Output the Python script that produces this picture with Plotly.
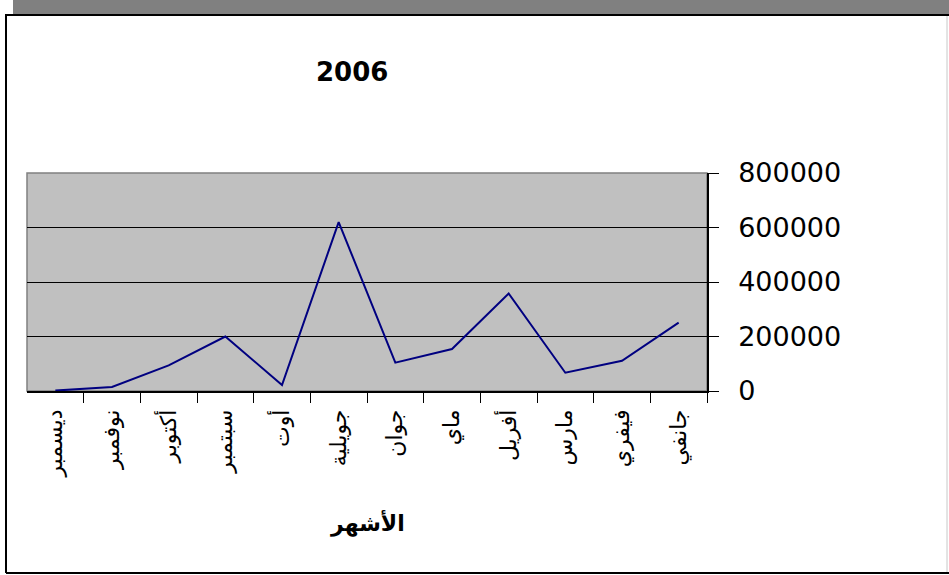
import plotly.graph_objects as go

months = ["جانفي", "فيفري", "مارس", "أفريل", "ماي", "جوان",
          "جويلية", "أوت", "سبتمبر", "أكتوبر", "نوفمبر", "ديسمبر"]
values = [251000, 111000, 67000, 358000, 154000, 104000,
          620000, 22000, 200000, 94000, 15000, 1500]
y_ticks = [0, 200000, 400000, 600000, 800000]
y_tick_labels = ["0", "200000", "400000", "600000", "800000"]
chart_title = "2006"
x_title = "الأشهر"

W, H = 949, 575
L, R, T, B = 27, 707, 173, 391


def px(x):
    return (x - L) / (R - L)


def py(y):
    return (B - y) / (B - T)


fig = go.Figure()
fig.add_trace(go.Scatter(
    x=months, y=values, mode="lines",
    line=dict(color="#000080", width=2),
    hoverinfo="x+y", showlegend=False,
))

shapes = [
    # top grey band
    dict(type="rect", xref="paper", yref="paper", x0=px(13), x1=px(952),
         y0=py(14), y1=py(-3), fillcolor="#808080", line=dict(width=0), layer="below"),
    # outer chart border
    dict(type="line", xref="paper", yref="paper", x0=px(5), x1=px(952),
         y0=py(15), y1=py(15), line=dict(color="black", width=2)),
    dict(type="line", xref="paper", yref="paper", x0=px(6), x1=px(6),
         y0=py(15), y1=py(573), line=dict(color="black", width=2)),
    dict(type="line", xref="paper", yref="paper", x0=px(6), x1=px(952),
         y0=py(573), y1=py(573), line=dict(color="black", width=2)),
    dict(type="line", xref="paper", yref="paper", x0=px(947), x1=px(947),
         y0=py(16), y1=py(572), line=dict(color="#c8c8c8", width=1)),
    # plot area frame (grey)
    dict(type="rect", xref="paper", yref="paper", x0=0, x1=1, y0=0, y1=1,
         line=dict(color="#808080", width=1.5), layer="below"),
]

annotations = [
    dict(text=chart_title, xref="paper", yref="paper", x=px(352), y=py(72),
         showarrow=False, xanchor="center", yanchor="middle",
         font=dict(family="DejaVu Sans", size=26, color="black", weight="bold")),
    dict(text=x_title, xref="paper", yref="paper", x=px(367), y=py(523),
         showarrow=False, xanchor="center", yanchor="middle",
         font=dict(family="DejaVu Sans", size=22, color="black", weight="bold")),
]

fig.update_layout(
    width=W, height=H,
    margin=dict(l=L, r=W - R, t=T, b=H - B, pad=0),
    paper_bgcolor="white",
    plot_bgcolor="#c0c0c0",
    shapes=shapes,
    annotations=annotations,
    showlegend=False,
    xaxis=dict(
        type="category",
        range=[len(months) - 0.5, -0.5],
        tickson="boundaries",
        ticks="outside", ticklen=10, tickcolor="black", tickwidth=1,
        ticklabelstandoff=8,
        showgrid=False,
        showline=True, linecolor="black", linewidth=1.5,
        tickangle=-90,
        tickfont=dict(family="DejaVu Sans", size=22, color="black"),
        zeroline=False,
    ),
    yaxis=dict(
        side="right",
        range=[0, 800000],
        tickvals=y_ticks, ticktext=y_tick_labels,
        ticks="outside", ticklen=10, tickcolor="black", tickwidth=1,
        ticklabelstandoff=14,
        showgrid=True, gridcolor="black", gridwidth=1,
        showline=True, linecolor="black", linewidth=1.5,
        zeroline=False,
        tickfont=dict(family="DejaVu Sans", size=27, color="black"),
    ),
)

fig.write_html(
    "out.html",
    config={"displayModeBar": False},
    post_script="document.body.style.margin='0';document.body.style.overflow='hidden';",
)
